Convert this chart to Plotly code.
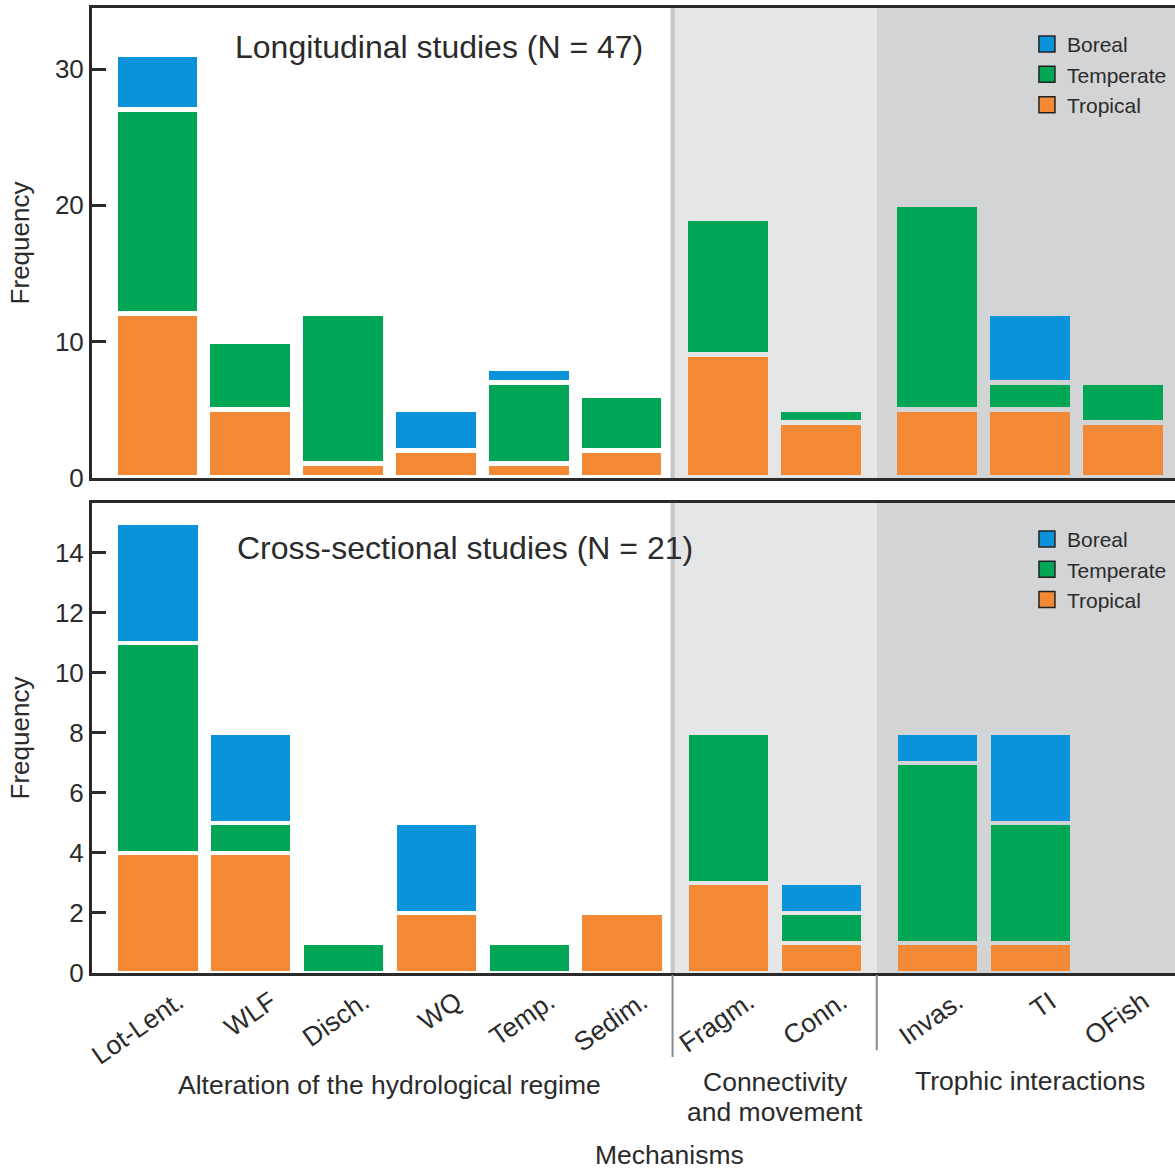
import plotly.graph_objects as go

# ---------------- data ----------------
categories = ["Lot-Lent.", "WLF", "Disch.", "WQ", "Temp.", "Sedim.",
              "Fragm.", "Conn.", "Invas.", "TI", "OFish"]
category_group = [0, 0, 0, 0, 0, 0, 1, 1, 2, 2, 2]
group_names = ["Alteration of the hydrological regime",
               "Connectivity<br>and movement",
               "Trophic interactions"]

long_tropical = [12, 5, 1, 2, 1, 2, 9, 4, 5, 5, 4]
long_temperate = [15, 5, 11, 0, 6, 4, 10, 1, 15, 2, 3]
long_boreal = [4, 0, 0, 3, 1, 0, 0, 0, 0, 5, 0]

cross_tropical = [4, 4, 0, 2, 0, 2, 3, 1, 1, 1, 0]
cross_temperate = [7, 1, 1, 0, 1, 0, 5, 1, 6, 4, 0]
cross_boreal = [4, 3, 0, 3, 0, 0, 0, 1, 1, 3, 0]

top_ticks = [0, 10, 20, 30]
bottom_ticks = [0, 2, 4, 6, 8, 10, 12, 14]

# ---------------- style ----------------
FONT = "Liberation Sans, Arial, Helvetica, sans-serif"
TXT = "#2b2b2b"
AX = "#2a2a2a"
C_BOREAL = "#0a93db"
C_TEMP = "#00a656"
C_TROP = "#f38835"
BG = ["#ffffff", "#e5e6e8", "#d2d4d6"]
LABEL_SIZE = 26.5

GROUP_GAP = [0.0, 0.15, 0.40]
pos = [i + GROUP_GAP[g] for i, g in enumerate(category_group)]
XR = [-0.711, 10.959]
gap_colors = [BG[g] for g in category_group]

# group boundaries and centres
ng = len(group_names)
g_first = [min(p for p, g in zip(pos, category_group) if g == k) for k in range(ng)]
g_last = [max(p for p, g in zip(pos, category_group) if g == k) for k in range(ng)]
bounds = [(g_last[k] + g_first[k + 1]) / 2 - 0.03 for k in range(ng - 1)]
centres = [(g_first[k] + g_last[k]) / 2 for k in range(ng)]

fig = go.Figure()

def add_stack(tro, tem, bor, xa, ya, lw, width):
    for name, vals, col in [("Tropical", tro, C_TROP),
                            ("Temperate", tem, C_TEMP),
                            ("Boreal", bor, C_BOREAL)]:
        fig.add_trace(go.Bar(x=pos, y=vals, name=name, width=width,
                             marker=dict(color=col, line=dict(color=gap_colors, width=lw)),
                             xaxis=xa, yaxis=ya, showlegend=False,
                             hoverinfo="x+y+name"))

add_stack(long_tropical, long_temperate, long_boreal, "x", "y", 5, 0.915)
add_stack(cross_tropical, cross_temperate, cross_boreal, "x2", "y2", 4, 0.895)

# legend entries (dark-outlined squares)
for leg, xa, ya in [("legend", "x", "y"), ("legend2", "x2", "y2")]:
    for name, col in [("Boreal", C_BOREAL), ("Temperate", C_TEMP), ("Tropical", C_TROP)]:
        fig.add_trace(go.Scatter(x=[None], y=[None], mode="markers", name=name,
                                 marker=dict(symbol="square", size=16, color=col,
                                             line=dict(color="#222222", width=1.5)),
                                 xaxis=xa, yaxis=ya, legend=leg, showlegend=True))

shapes = []
for yref in ["y domain", "y2 domain"]:
    xref = "x" if yref == "y domain" else "x2"
    shapes.append(dict(type="rect", xref=xref, yref=yref, x0=bounds[0], x1=bounds[1],
                       y0=0, y1=1, fillcolor=BG[1], line_width=0, layer="below"))
    shapes.append(dict(type="rect", xref=xref, yref=yref, x0=bounds[1], x1=XR[1],
                       y0=0, y1=1, fillcolor=BG[2], line_width=0, layer="below"))
    shapes.append(dict(type="line", xref=xref, yref=yref, x0=bounds[0], x1=bounds[0],
                       y0=0, y1=1, line=dict(color="#c5c7c9", width=4), layer="below"))
# separators under the lower axis
for b, y1 in zip(bounds, [-0.087, -0.080]):
    shapes.append(dict(type="line", xref="x2", yref="paper", x0=b, x1=b,
                       y0=-0.002, y1=y1, line=dict(color="#8a8b8d", width=2)))

annotations = []
annotations.append(dict(text="Longitudinal studies (N = 47)", xref="x domain", yref="y domain",
                        x=0.1302, y=0.917, xanchor="left", yanchor="middle", showarrow=False,
                        font=dict(size=32, color=TXT, family=FONT)))
annotations.append(dict(text="Cross-sectional studies (N = 21)", xref="x2 domain", yref="y2 domain",
                        x=0.132, y=0.904, xanchor="left", yanchor="middle", showarrow=False,
                        font=dict(size=32, color=TXT, family=FONT)))
group_y = [-0.116, -0.113, -0.112]
LINE_STEP = 0.031  # ~30 px between wrapped lines
for name, c, gy in zip(group_names, centres, group_y):
    for j, line in enumerate(name.split("<br>")):
        annotations.append(dict(text=line, xref="x2", yref="paper", x=c, y=gy - j * LINE_STEP,
                                xanchor="center", yanchor="middle", showarrow=False,
                                font=dict(size=LABEL_SIZE, color=TXT, family=FONT)))
annotations.append(dict(text="Mechanisms", xref="paper", yref="paper", x=0.5337, y=-0.1886,
                        xanchor="center", yanchor="middle", showarrow=False,
                        font=dict(size=LABEL_SIZE, color=TXT, family=FONT)))

xcommon = dict(range=XR, showgrid=False, zeroline=False, showline=True, linecolor=AX,
               linewidth=3, mirror=True, ticks="", tickvals=pos, ticktext=categories,
               fixedrange=True)
ycommon = dict(showgrid=False, zeroline=False, showline=True, linecolor=AX, linewidth=3,
               ticks="inside", ticklen=14, tickwidth=3, tickcolor=AX,
               tickfont=dict(size=26, color=TXT, family=FONT), fixedrange=True,
               title=dict(text="Frequency", font=dict(size=26, color=TXT, family=FONT), standoff=18))

fig.update_layout(
    width=1175, height=1169,
    margin=dict(l=92, r=0, t=8, b=196),
    paper_bgcolor="white", plot_bgcolor="white",
    barmode="stack", bargap=0,
    font=dict(family=FONT, color=TXT),
    xaxis=dict(**xcommon, anchor="y", showticklabels=False),
    xaxis2=dict(**xcommon, anchor="y2", showticklabels=True, tickangle=-35,
                ticklabelshift=20,
                tickfont=dict(size=LABEL_SIZE, color=TXT, family=FONT)),
    yaxis=dict(**ycommon, domain=[0.5130, 1.0], range=[0, 34.48], tickvals=top_ticks, anchor="x"),
    yaxis2=dict(**ycommon, domain=[0.0, 0.4870], range=[0, 15.65], tickvals=bottom_ticks, anchor="x2"),
    legend=dict(x=0.8633, y=0.9835, xanchor="left", yanchor="top", bgcolor="rgba(0,0,0,0)",
                font=dict(size=21, color=TXT, family=FONT), traceorder="normal"),
    legend2=dict(x=0.8633, y=0.4706, xanchor="left", yanchor="top", bgcolor="rgba(0,0,0,0)",
                 font=dict(size=21, color=TXT, family=FONT), traceorder="normal"),
    shapes=shapes, annotations=annotations,
)

fig.write_html("out.html", config={"displayModeBar": False},
               post_script="document.body.style.margin='0px';document.body.style.overflow='hidden';")
